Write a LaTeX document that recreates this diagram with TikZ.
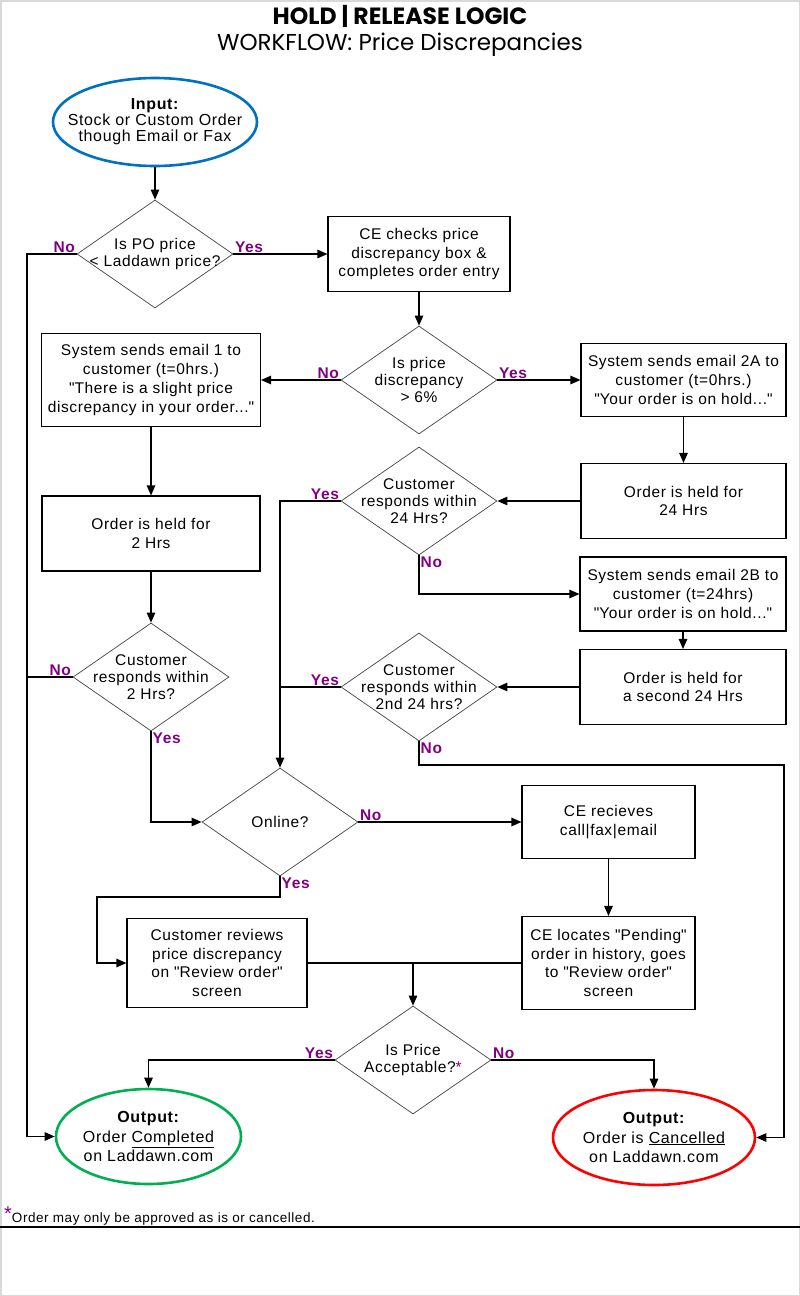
\documentclass[tikz,border=0pt]{standalone}
\usepackage{fontspec}
\setmainfont{Liberation Sans}[LetterSpace=4]
\newfontfamily\titlefont{Poppins}
\usetikzlibrary{arrows.meta, shapes.geometric}
\definecolor{ynpurple}{RGB}{128,0,128}
\definecolor{inblue}{RGB}{0,112,192}
\definecolor{okgreen}{RGB}{0,176,80}
\definecolor{nored}{RGB}{255,0,0}
\newcommand{\dq}{\textquotedbl}
\tikzset{
    box/.style={draw, line width=1.1pt, align=center, inner sep=0pt, font=\fontsize{15.5}{18.7}\selectfont}, % 处理框
    dtext/.style={align=center, font=\fontsize{15.5}{17}\selectfont}, % 菱形内文字
    decision/.style={diamond, draw=black!70, line width=0.75pt, minimum width=156pt, minimum height=108pt, inner sep=0pt, label={[dtext]center:{#1}}}, % 判断菱形
    ttext/.style={align=center, font=\fontsize{16}{19.5}\selectfont}, % 椭圆内文字
    terminal/.style={ellipse, draw=#1, line width=2.6pt, inner sep=0pt}, % 输入输出椭圆
    flow/.style={line width=1.1pt, -{Triangle[length=10pt, width=8.5pt]}}, % 带箭头的连线
    link/.style={line width=1.1pt}, % 无箭头的连线
    yn/.style={text=ynpurple, font=\bfseries\fontsize{15.5}{17}\selectfont, inner sep=1.5pt} % Yes/No 标注
}

\begin{document}
\begin{tikzpicture}[x=1pt, y=-1pt]
    \useasboundingbox (0,0) rectangle (800,1296);
    \draw[black!15, line width=3pt] (0,0) rectangle (800,1296);

    \node[font=\titlefont\bfseries\fontsize{23.5}{24}\selectfont] (title) at (400,16) {HOLD | RELEASE LOGIC};
    \node[font=\titlefont\fontsize{23}{23}\selectfont] (subtitle) at (400,45) {WORKFLOW: Price Discrepancies};

    % 左列
    \node[terminal=inblue, minimum width=204pt, minimum height=88pt, label={[ttext, font=\fontsize{16}{16}\selectfont]center:{\textbf{Input:}\\Stock or Custom Order\\though Email or Fax}}] (in) at (155,122) {};
    \node[decision={Is PO price\\< Laddawn price?}] (d1) at (155,254) {};
    \node[box, minimum width=219pt, minimum height=93pt] (e1) at (151,380) {System sends email 1 to\\customer (t=0hrs.)\\\dq There is a slight price\\discrepancy in your order...\dq};
    \node[box, minimum width=218pt, minimum height=75pt] (h2) at (151,533.5) {Order is held for\\2 Hrs};
    \node[decision={Customer\\responds within\\2 Hrs?}] (d3) at (151,677) {};

    % 中列
    \node[box, minimum width=182pt, minimum height=75pt] (ce) at (419,254) {CE checks price\\discrepancy box \&\\completes order entry};
    \node[decision={Is price\\discrepancy\\> 6\%}] (d2) at (419,380) {};
    \node[decision={Customer\\responds within\\24 Hrs?}] (d4) at (419,501) {};
    \node[decision={Customer\\responds within\\2nd 24 hrs?}] (d5) at (419,687) {};
    \node[decision={Online?}] (on) at (280,822) {};

    % 右列
    \node[box, minimum width=205pt, minimum height=73pt] (e2a) at (683.5,380) {System sends email 2A to\\customer (t=0hrs.)\\\dq Your order is on hold...\dq};
    \node[box, minimum width=205pt, minimum height=75pt] (h24) at (683.5,501) {Order is held for\\24 Hrs};
    \node[box, minimum width=206pt, minimum height=74pt] (e2b) at (683,594) {System sends email 2B to\\customer (t=24hrs)\\\dq Your order is on hold...\dq};
    \node[box, minimum width=206pt, minimum height=75pt] (h48) at (683,687) {Order is held for\\a second 24 Hrs};

    % 下部
    \node[box, minimum width=173pt, minimum height=73pt] (rcv) at (608.5,822) {CE recieves\\call|fax|email};
    \node[box, minimum width=180pt, minimum height=89pt] (rev) at (217,963) {Customer reviews\\price discrepancy\\on \dq Review order\dq\\screen};
    \node[box, minimum width=173pt, minimum height=93pt] (loc) at (608.5,963) {CE locates \dq Pending\dq\\order in history, goes\\to \dq Review order\dq\\screen};
    \node[decision={Is Price\\Acceptable?{\color{ynpurple}*}}] (d6) at (413,1060) {};
    \node[terminal=okgreen, minimum width=185pt, minimum height=95pt, label={[ttext]center:{\textbf{Output:}\\Order \underline{Completed}\\on Laddawn.com}}] (ok) at (148.5,1136.5) {};
    \node[terminal=nored, minimum width=202pt, minimum height=95pt, label={[ttext]center:{\textbf{Output:}\\Order is \underline{Cancelled}\\on Laddawn.com}}] (cx) at (654,1137.5) {};

    \coordinate (lbus) at (27,0);
    \coordinate (rbus) at (784,765);
    \coordinate (ybend) at (97,897);

    \draw[flow] (in) -- (d1);
    \draw[flow] (d1.east) -- (ce.west);
    \draw[flow] (d1.west) -- (d1.west -| lbus) -- (lbus |- ok.west) -- (ok.west);
    \draw[flow] (ce) -- (d2);
    \draw[flow] (d2.west) -- (e1.east);
    \draw[flow] (d2.east) -- (e2a.west);
    \draw[flow] (e1) -- (h2);
    \draw[flow] (h2) -- (d3);
    \draw[link] (d3.west) -- (d3.west -| lbus);
    \draw[flow] (d3.south) |- (on.west);
    \draw[flow] (e2a) -- (h24);
    \draw[flow] (h24) -- (d4);
    \draw[flow] (d4.west) -| (on.north);
    \draw[link] (d5.west) -- (d5.west -| on.north);
    \draw[flow] (d4.south) |- (e2b.west);
    \draw[flow] (e2b) -- (h48);
    \draw[flow] (h48) -- (d5);
    \draw[flow] (d5.south) |- (rbus) |- (cx.east);
    \draw[flow] (on.east) -- (rcv.west);
    \draw[flow] (on.south) |- (ybend) |- (rev.west);
    \draw[flow] (rcv) -- (loc);
    \draw[link] (rev.east) -- (loc.west);
    \draw[flow] (d6.north |- rev.east) -- (d6.north);
    \draw[flow] (d6.west) -| (ok.north);
    \draw[flow] (d6.east) -| (cx.north);

    \node[yn, anchor=south east] (d1no) at (d1.west) {No};
    \node[yn, anchor=south west] (d1yes) at (d1.east) {Yes};
    \node[yn, anchor=south east] (d2no) at (d2.west) {No};
    \node[yn, anchor=south west] (d2yes) at (d2.east) {Yes};
    \node[yn, anchor=south east] (d3no) at (d3.west) {No};
    \node[yn, anchor=north west] (d3yes) at (d3.south) {Yes};
    \node[yn, anchor=south east] (d4yes) at (d4.west) {Yes};
    \node[yn, anchor=north west] (d4no) at (d4.south) {No};
    \node[yn, anchor=south east] (d5yes) at (d5.west) {Yes};
    \node[yn, anchor=north west] (d5no) at (d5.south) {No};
    \node[yn, anchor=south west] (onno) at (on.east) {No};
    \node[yn, anchor=north west] (onyes) at (on.south) {Yes};
    \node[yn, anchor=south east] (d6yes) at (d6.west) {Yes};
    \node[yn, anchor=south west] (d6no) at (d6.east) {No};

    \node[anchor=west, inner sep=0pt, font=\fontsize{13.5}{16}\selectfont] (note) at (4,1216) {\raisebox{2pt}{\textcolor{ynpurple}{\fontsize{20}{20}\selectfont *}}Order may only be approved as is or cancelled.};
    \draw[link] (0,1227) -- (800,1227);
\end{tikzpicture}
\end{document}
